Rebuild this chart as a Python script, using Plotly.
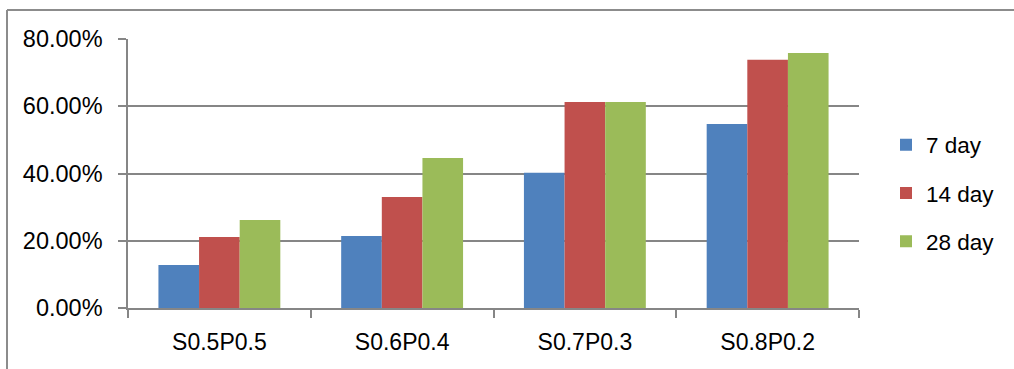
import plotly.graph_objects as go

categories = ["S0.5P0.5", "S0.6P0.4", "S0.7P0.3", "S0.8P0.2"]
series_names = ["7 day", "14 day", "28 day"]
day7 = [0.128, 0.214, 0.402, 0.547]
day14 = [0.211, 0.330, 0.613, 0.738]
day28 = [0.262, 0.446, 0.613, 0.758]
y_ticks = [0.0, 0.2, 0.4, 0.6, 0.8]
title_text = "Development of compressive strength ratio (%)"

colors = ["#4F81BD", "#C0504D", "#9BBB59"]
values = [day7, day14, day28]

W, H = 1014, 369
# target plot area in screen pixels
X0, X1, Y0, Y1 = 128, 859, 39, 308
L, T, R, B = X0, Y0, W - X1, H - Y1
pw, ph = X1 - X0, Y1 - Y0

def px_x(x):
    return (x - X0) / pw

def px_y(y):
    return (Y1 - y) / ph

fig = go.Figure()
for name, vals, c in zip(series_names, values, colors):
    fig.add_trace(go.Bar(x=categories, y=vals, name=name, marker=dict(color=c, line=dict(width=0)),
                         legendgroup=name))

grid = "#868686"
fig.update_layout(
    width=W, height=H,
    margin=dict(l=L, r=R, t=T, b=B),
    paper_bgcolor="white", plot_bgcolor="white",
    barmode="group", bargap=0.333, bargroupgap=0,
    font=dict(family="Liberation Sans, Arial, sans-serif", size=22, color="black"),
    showlegend=True,
    legend=dict(x=px_x(886), y=px_y(193), xanchor="left", yanchor="middle",
                font=dict(size=22.5), tracegroupgap=16, bgcolor="rgba(0,0,0,0)"),
    xaxis=dict(showline=True, linecolor=grid, linewidth=1.5, ticks="outside", tickson="boundaries",
               ticklen=8, tickcolor=grid, tickwidth=1.5, showgrid=False,
               tickfont=dict(size=23), ticklabelstandoff=13),
    yaxis=dict(range=[0, 0.8], tickvals=y_ticks, tickformat=".2%", showline=True, linecolor=grid,
               linewidth=1.5, ticks="outside", ticklen=8, tickcolor=grid, tickwidth=1.5,
               showgrid=True, gridcolor=grid, gridwidth=1.5, zeroline=False,
               tickfont=dict(size=23.5), ticklabelstandoff=11),
)

# outer chart border (partially visible)
bx, by = px_x(7), px_y(10)
fig.add_shape(type="line", xref="paper", yref="paper", x0=bx, x1=bx, y0=-0.5, y1=by,
              line=dict(color="#8C8C8C", width=2))
fig.add_shape(type="line", xref="paper", yref="paper", x0=bx, x1=1.5, y0=by, y1=by,
              line=dict(color="#8C8C8C", width=2))

# title, mostly cut off at the top of the image (as in the reference)
fig.add_annotation(text=title_text, xref="paper", yref="paper", x=px_x(758), y=px_y(1.5),
                   xanchor="right", yanchor="bottom", showarrow=False,
                   font=dict(family="Liberation Serif, Times New Roman, serif", size=28, color="black"))

fig.write_html("out.html", config={"displayModeBar": False},
               post_script="document.body.style.margin='0';")
